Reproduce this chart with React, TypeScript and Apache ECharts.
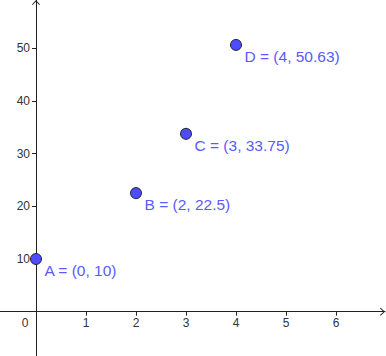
import React, { useEffect, useRef } from "react";
import * as echarts from "echarts";

const pointNames = ["A", "B", "C", "D"];
const xValues = [0, 2, 3, 4];
const yValues = [10, 22.5, 33.75, 50.63];
const xTickValues = [1, 2, 3, 4, 5, 6];
const xLabelValues = [0, 1, 2, 3, 4, 5, 6];
const yTickValues = [10, 20, 30, 40, 50];

const ARROW = "path://M40,0 L80,44 L73,50 L40,14 L7,50 L0,44 Z";

const GRID_W = 385;
const GRID_H = 356;
const X_MIN = -0.72;
const X_MAX = 6.98;
const Y_MIN = -8.41;
const Y_MAX = 59.15;

export default function App() {
  const ref = useRef<HTMLDivElement>(null);
  useEffect(() => {
    if (!ref.current) return;
    const chart = echarts.init(ref.current, undefined, { renderer: "svg" });
    const axisText = { color: "#333", fontSize: 12, fontFamily: "Liberation Sans, Arial, sans-serif" };
    const xOffset = -((0 - Y_MIN) / (Y_MAX - Y_MIN)) * GRID_H;
    const yOffset = -((0 - X_MIN) / (X_MAX - X_MIN)) * GRID_W;
    chart.setOption({
      animation: false,
      backgroundColor: "#ffffff",
      grid: { left: 0, top: 0, width: GRID_W, height: GRID_H, containLabel: false, outerBoundsMode: "none" },
      xAxis: {
        type: "value",
        position: "bottom",
        offset: xOffset,
        min: X_MIN,
        max: X_MAX,
        splitLine: { show: false },
        axisLine: {
          show: true,
          onZero: false,
          lineStyle: { color: "#222", width: 1 },
          symbol: ["none", ARROW],
          symbolSize: [8, 5],
          symbolOffset: [0, -2.5],
        },
        axisTick: { show: true, length: 4, lineStyle: { color: "#222" }, customValues: xTickValues },
        axisLabel: {
          ...axisText,
          margin: 5,
          customValues: xLabelValues,
          formatter: (v: number) => (v === 0 ? "{z|0}" : String(v)),
          rich: { z: { ...axisText, padding: [0, 22, 0, 0] } },
        },
      },
      yAxis: {
        type: "value",
        position: "left",
        offset: yOffset,
        min: Y_MIN,
        max: Y_MAX,
        splitLine: { show: false },
        axisLine: {
          show: true,
          onZero: false,
          lineStyle: { color: "#222", width: 1 },
          symbol: ["none", ARROW],
          symbolSize: [8, 5],
          symbolOffset: [0, -2.5],
        },
        axisTick: { show: true, length: 4, lineStyle: { color: "#222" }, customValues: yTickValues },
        axisLabel: { ...axisText, margin: 6, customValues: yTickValues },
      },
      series: [
        {
          type: "scatter",
          symbol: "circle",
          symbolSize: 11,
          itemStyle: { color: "#4d4dff", borderColor: "#222", borderWidth: 1, opacity: 1 },
          label: {
            show: true,
            position: "right",
            distance: 5,
            offset: [-2.5, 11.5],
            color: "#5a5aff",
            fontSize: 15.5,
            fontFamily: "Liberation Sans, Arial, sans-serif",
            formatter: (p: any) => `${p.name} = (${p.value[0]}, ${p.value[1]})`,
          },
          emphasis: { disabled: true },
          data: pointNames.map((n, i) => ({ name: n, value: [xValues[i], yValues[i]] })),
        },
      ],
    });
    return () => chart.dispose();
  }, []);
  return (
    <div
      ref={ref}
      style={{ position: "fixed", left: 0, top: 0, width: 386, height: 356, background: "#fff" }}
    />
  );
}
